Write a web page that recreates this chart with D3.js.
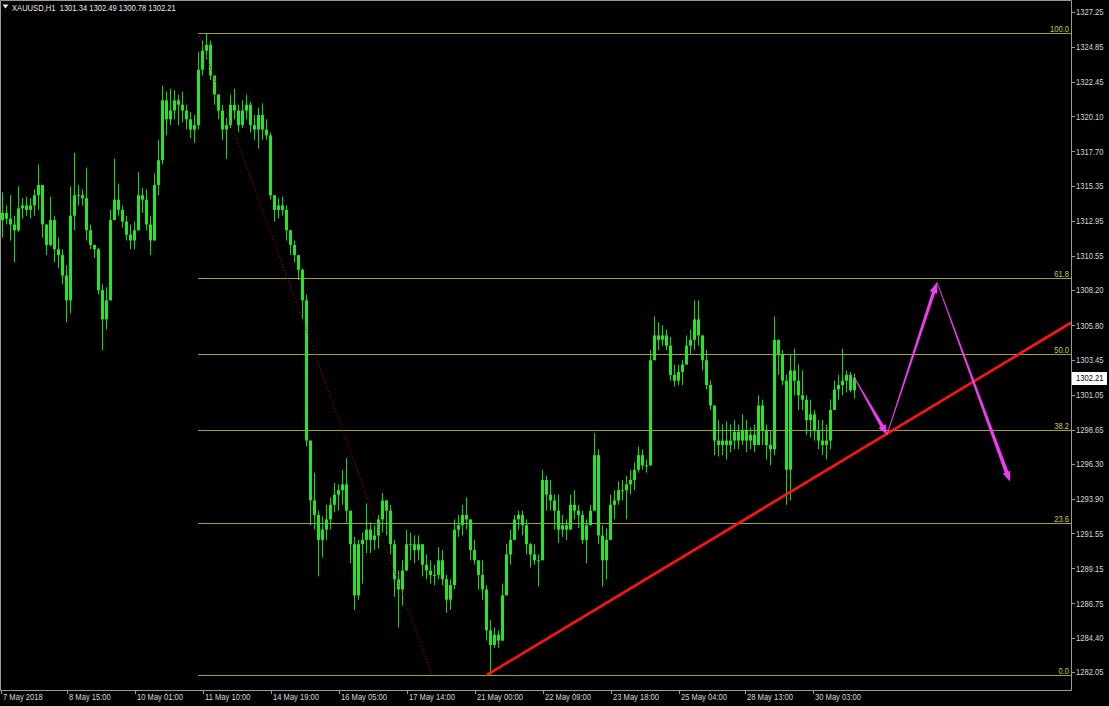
<!DOCTYPE html>
<html><head><meta charset="utf-8">
<script src="https://cdn.jsdelivr.net/npm/d3@7"></script>
<style>
html,body{margin:0;padding:0;background:#000;overflow:hidden}
svg{display:block}
text{font-family:"Liberation Sans","Arial",sans-serif;}
</style></head><body>
<svg id="c" width="1109" height="706"></svg>
<script>
// ---------------- data (XAUUSD H1, drawn as 2-hour candles) ----------------
const symbol = "XAUUSD,H1";
const lastOHLC = ["1301.34", "1302.49", "1300.78", "1302.21"];
const lastPrice = 1302.21;
const firstOpen = 1313.0;
const highs = [
 1314.9,1314.0,1314.7,1313.3,1315.3,1314.5,1314.6,1314.5,1315.1,1316.8,
 1315.4,1312.7,1314.6,1313.3,1311.8,1311.0,1309.9,1315.3,1317.6,1315.4,
 1315.1,1316.6,1312.7,1311.3,1311.1,1308.6,1308.4,1313.7,1317.2,1315.5,
 1314.0,1313.3,1312.7,1312.9,1316.3,1315.2,1315.1,1313.3,1316.2,1318.5,
 1322.2,1321.8,1322.0,1321.9,1321.6,1321.8,1320.9,1320.4,1320.2,1324.5,
 1325.3,1325.8,1325.3,1322.7,1321.6,1320.9,1320.0,1321.6,1322.0,1320.9,
 1321.2,1321.6,1321.1,1320.2,1320.7,1321.0,1319.9,1319.0,1314.5,1314.5,
 1314.6,1314.0,1312.3,1311.6,1310.6,1309.7,1307.9,1297.9,1295.7,1293.1,
 1292.7,1293.5,1294.0,1295.0,1294.9,1295.9,1296.7,1292.5,1291.3,1291.1,
 1291.6,1293.6,1292.3,1292.1,1292.8,1294.3,1293.8,1293.5,1291.1,1289.0,
 1289.7,1291.8,1291.6,1291.4,1291.4,1290.5,1290.1,1289.7,1289.4,1290.6,
 1290.4,1288.7,1288.4,1292.5,1292.8,1293.5,1294.0,1292.1,1291.1,1289.7,
 1289.7,1288.0,1285.6,1285.1,1284.9,1288.1,1290.8,1291.8,1292.8,1293.1,
 1293.1,1292.5,1290.9,1290.8,1290.1,1295.9,1295.5,1295.2,1294.2,1294.2,
 1292.8,1292.5,1294.2,1294.5,1293.5,1293.1,1292.5,1293.5,1298.4,1297.3,
 1292.1,1291.9,1294.2,1294.5,1295.1,1295.2,1295.5,1295.9,1296.4,1297.5,
 1297.3,1296.6,1304.1,1306.4,1306.0,1305.8,1305.5,1305.0,1303.1,1303.1,
 1303.4,1305.1,1305.5,1307.5,1307.5,1304.6,1304.1,1302.0,1299.7,1299.3,
 1299.0,1299.2,1299.0,1299.3,1299.0,1299.7,1299.3,1298.8,1299.0,1301.0,
 1300.7,1299.0,1298.6,1306.4,1304.8,1304.1,1302.4,1303.8,1304.2,1303.1,
 1302.7,1301.0,1300.7,1300.0,1299.3,1299.3,1299.0,1300.7,1302.0,1302.4,
 1304.2,1302.7,1302.6,1302.49];
const lows = [
 1311.8,1312.7,1311.6,1310.1,1312.2,1313.1,1313.3,1313.1,1313.3,1313.7,
 1311.8,1310.6,1311.2,1310.1,1309.7,1308.6,1306.0,1306.6,1312.3,1314.0,
 1314.0,1311.6,1311.0,1310.4,1307.9,1304.1,1305.5,1308.2,1313.0,1313.3,
 1312.5,1311.6,1311.0,1311.0,1313.0,1313.5,1312.3,1310.6,1312.0,1314.7,
 1316.8,1318.8,1319.5,1319.9,1319.5,1319.7,1319.2,1318.6,1318.3,1319.2,
 1322.9,1324.0,1322.6,1320.9,1319.9,1318.5,1317.2,1319.3,1319.9,1319.0,
 1319.3,1319.9,1319.0,1318.5,1317.9,1318.5,1318.5,1314.4,1312.9,1313.1,
 1313.3,1311.6,1310.6,1310.1,1308.9,1306.2,1297.5,1292.1,1291.8,1288.6,
 1289.9,1291.1,1291.8,1293.0,1293.1,1293.5,1292.3,1289.5,1286.3,1287.0,
 1288.1,1290.2,1290.2,1290.4,1290.5,1291.6,1291.4,1290.1,1287.2,1285.1,
 1286.6,1289.0,1289.7,1289.5,1289.7,1288.6,1288.4,1288.1,1288.0,1288.4,
 1288.0,1286.1,1286.3,1287.7,1291.3,1291.4,1291.8,1289.7,1289.4,1287.7,
 1287.0,1284.2,1281.85,1283.7,1283.7,1284.6,1287.3,1289.4,1291.4,1291.8,
 1291.4,1290.1,1289.2,1289.4,1287.9,1289.7,1293.1,1293.1,1291.8,1290.9,
 1291.3,1291.1,1291.8,1292.5,1291.9,1290.8,1289.5,1292.1,1293.1,1290.8,
 1287.9,1288.4,1291.1,1292.5,1293.5,1293.8,1292.5,1294.2,1294.5,1295.7,
 1295.9,1295.7,1296.2,1303.8,1304.1,1304.4,1304.1,1302.0,1301.6,1301.7,
 1301.7,1303.1,1303.8,1304.1,1304.4,1302.7,1301.4,1300.0,1296.9,1296.8,
 1296.9,1296.6,1297.1,1297.3,1297.3,1297.6,1297.1,1297.3,1297.1,1297.9,
 1297.6,1296.6,1296.2,1296.9,1302.4,1301.7,1293.5,1293.8,1301.0,1300.0,
 1300.0,1298.3,1298.1,1297.9,1297.3,1296.9,1296.6,1297.3,1300.3,1300.7,
 1301.0,1301.2,1301.2,1300.78];
const closes = [
 1313.5,1313.1,1312.7,1312.3,1313.8,1314.0,1313.7,1314.0,1314.7,1315.4,
 1312.7,1311.3,1313.0,1311.0,1310.6,1309.2,1307.5,1313.3,1314.7,1314.7,
 1314.5,1312.3,1311.3,1311.0,1308.2,1306.2,1307.5,1313.0,1314.4,1313.7,
 1312.9,1312.0,1311.6,1312.3,1314.7,1314.4,1312.7,1311.6,1315.4,1317.1,
 1321.2,1319.9,1320.5,1321.2,1320.9,1320.5,1319.9,1319.2,1319.5,1323.3,
 1324.6,1325.0,1322.9,1321.6,1320.5,1319.2,1319.5,1320.9,1320.5,1319.5,
 1320.5,1320.9,1319.5,1319.2,1320.2,1319.2,1318.8,1314.7,1313.7,1314.0,
 1313.7,1312.3,1311.3,1310.6,1309.6,1307.5,1297.9,1293.8,1292.8,1291.1,
 1291.8,1292.5,1293.5,1294.2,1294.5,1294.9,1293.1,1290.8,1287.3,1290.8,
 1291.1,1291.8,1291.1,1291.4,1292.5,1293.8,1293.1,1290.8,1288.4,1287.7,
 1289.0,1290.8,1290.8,1290.4,1290.8,1289.4,1289.0,1288.7,1288.7,1289.7,
 1288.4,1287.0,1288.0,1291.8,1292.1,1292.8,1292.5,1290.4,1289.7,1288.7,
 1287.7,1284.9,1283.9,1284.6,1284.2,1287.3,1290.1,1291.1,1292.5,1292.8,
 1292.1,1290.8,1290.1,1289.7,1289.7,1295.2,1294.2,1293.8,1293.1,1291.8,
 1292.1,1291.8,1293.5,1293.1,1292.8,1291.1,1292.1,1293.1,1296.9,1291.4,
 1289.7,1291.1,1293.5,1293.8,1294.5,1294.5,1294.9,1295.2,1295.9,1296.9,
 1296.2,1296.2,1303.4,1305.1,1304.8,1305.1,1304.4,1302.4,1302.0,1302.6,
 1303.1,1304.4,1304.8,1306.2,1305.1,1303.4,1301.7,1300.3,1297.9,1297.6,
 1297.9,1297.6,1297.9,1298.5,1297.9,1298.6,1297.9,1298.3,1297.6,1300.3,
 1298.6,1297.6,1297.3,1304.8,1303.8,1302.0,1295.9,1302.7,1302.0,1301.0,
 1300.7,1299.3,1299.7,1298.6,1297.9,1297.6,1297.9,1300.0,1301.4,1301.7,
 1302.0,1302.4,1301.34,1302.21];

const yTickLabels = ["1327.25","1324.85","1322.45","1320.10","1317.70","1315.35","1312.95",
 "1310.55","1308.20","1305.80","1303.45","1301.05","1298.65","1296.30","1293.90","1291.55",
 "1289.15","1286.75","1284.40","1282.05"];
const xTickLabels = ["7 May 2018","8 May 15:00","10 May 01:00","11 May 10:00","14 May 19:00",
 "16 May 05:00","17 May 14:00","21 May 00:00","22 May 09:00","23 May 18:00","25 May 04:00",
 "28 May 13:00","30 May 03:00"];
const xTickHours = [0,33,67,101,135,169,203,237,271,305,339,372,406];

const fibLevels = [100.0, 61.8, 50.0, 38.2, 23.6, 0.0];
const fibHigh = 1325.80, fibLow = 1281.85;
const fibAnchorBars = [49, 107.5];          // 2-hour bar index of the high and low anchors
const trendPoints = [[121.25, 1281.85], [196, 1294.2]];
const forecastPath = [[213, 1302.25], [221.25, 1298.3], [233.75, 1308.75], [252, 1295.1]];

// ---------------- layout ----------------
const W = 1109, H = 706;
const plotRight = 1071, plotBottom = 690;
const FS = 9.5, SX = 0.8;   // font size and horizontal squeeze (narrow terminal font)
const svg = d3.select("#c");
svg.append("rect").attr("width", W).attr("height", H).attr("fill", "#000");

const x = d3.scaleLinear().domain([0, 213]).range([2, 854]);        // 2-hour bar index
const xHour = h => x(h / 2 - 0.25);                                   // hourly index
const y = d3.scaleLinear().domain([1282.05, 1327.25]).range([672, 12]);

function label(sel, px, py) {
  return sel.attr("transform", (d, i) => `translate(${px(d, i)},${py(d, i)}) scale(${SX},1)`)
    .attr("font-size", FS);
}

svg.append("clipPath").attr("id", "pc").append("rect")
  .attr("x", 0).attr("y", 0).attr("width", plotRight).attr("height", plotBottom);
const g = svg.append("g").attr("clip-path", "url(#pc)");

// fib levels
const fibY = lv => y(fibLow + (fibHigh - fibLow) * lv / 100);
const fx0 = Math.round(x(fibAnchorBars[0]));
g.selectAll("line.fib").data(fibLevels).join("line")
  .attr("x1", fx0).attr("x2", plotRight)
  .attr("y1", d => Math.round(fibY(d)) + 0.5).attr("y2", d => Math.round(fibY(d)) + 0.5)
  .attr("stroke", "#a3a32c").attr("stroke-width", 1);
label(g.selectAll("text.fib").data(fibLevels).join("text"),
      () => plotRight - 2, d => Math.round(fibY(d)) - 1.5)
  .attr("text-anchor", "end").attr("fill", "#cccc3a")
  .text(d => d.toFixed(1));

// candles
const candles = closes.map((c, i) => {
  const o = i === 0 ? firstOpen : closes[i - 1];
  return {i, o, c, h: Math.max(highs[i], o, c), l: Math.min(lows[i], o, c)};
});
g.selectAll("rect.wick").data(candles).join("rect")
  .attr("x", d => Math.round(x(d.i))).attr("width", 1)
  .attr("y", d => y(d.h)).attr("height", d => Math.max(1, y(d.l) - y(d.h)))
  .attr("fill", "#14d814");
g.selectAll("rect.body").data(candles).join("rect")
  .attr("x", d => Math.round(x(d.i)) - 1).attr("width", 3)
  .attr("y", d => y(Math.max(d.o, d.c))).attr("height", d => Math.max(1, Math.abs(y(d.o) - y(d.c))))
  .attr("fill", "#22e822");

// fib dotted trend line
g.append("line")
  .attr("x1", x(fibAnchorBars[0])).attr("y1", y(fibHigh))
  .attr("x2", x(fibAnchorBars[1])).attr("y2", y(fibLow))
  .attr("stroke", "#c00000").attr("stroke-width", 1).attr("stroke-dasharray", "1,2");

// trend line (ray)
const [t0, t1] = trendPoints.map(p => [x(p[0]), y(p[1])]);
const slope = (t1[1] - t0[1]) / (t1[0] - t0[0]);
g.append("line")
  .attr("x1", t0[0]).attr("y1", t0[1])
  .attr("x2", plotRight).attr("y2", t0[1] + slope * (plotRight - t0[0]))
  .attr("stroke", "#ff1414").attr("stroke-width", 2.6);

// forecast arrows (tapered)
function arrowPoly(p0, p1, w0, w1, L, hw) {
  const dx = p1[0] - p0[0], dy = p1[1] - p0[1], len = Math.hypot(dx, dy);
  const ux = dx / len, uy = dy / len, nx = -uy, ny = ux;
  const b = [p1[0] - ux * L, p1[1] - uy * L];
  const P = (p, w) => [p[0] + nx * w, p[1] + ny * w];
  return [P(p0, w0), P(b, w1), P(b, hw), p1, P(b, -hw), P(b, -w1), P(p0, -w0)];
}
const fp = forecastPath.map(p => [x(p[0]), y(p[1])]);
const arrowSpec = [[0.4, 1.8, 10, 4], [0.4, 1.7, 11, 4], [0.4, 1.9, 10, 4]];
for (let i = 0; i < fp.length - 1; i++) {
  const s = arrowSpec[i];
  g.append("polygon")
    .attr("points", arrowPoly(fp[i], fp[i + 1], s[0], s[1], s[2], s[3]).map(p => p.join(",")).join(" "))
    .attr("fill", "#f03cf0");
}

// frame / axes
svg.append("path")
  .attr("d", `M0.5,${plotBottom + 0.5} V0.5 H${plotRight + 0.5} V${plotBottom + 0.5} H0.5`)
  .attr("fill", "none").attr("stroke", "#9a9a9a").attr("stroke-width", 1);

// y axis ticks & labels
const yAxis = svg.append("g");
yAxis.selectAll("line").data(yTickLabels).join("line")
  .attr("x1", plotRight + 1).attr("x2", plotRight + 4)
  .attr("y1", d => Math.round(y(+d)) + 0.5).attr("y2", d => Math.round(y(+d)) + 0.5)
  .attr("stroke", "#9a9a9a");
label(yAxis.selectAll("text").data(yTickLabels).join("text"),
      () => plotRight + 5, d => y(+d))
  .attr("dy", "0.35em").attr("fill", "#d8d8d8").text(d => d);

// current price label
const py = y(lastPrice);
svg.append("rect").attr("x", plotRight + 1).attr("y", Math.round(py) - 6)
  .attr("width", 35).attr("height", 13).attr("fill", "#ffffff");
label(svg.append("text"), () => plotRight + 5, () => py)
  .attr("dy", "0.35em").attr("fill", "#000").text(lastPrice.toFixed(2));

// x axis ticks & labels
const xAxis = svg.append("g");
xAxis.selectAll("line").data(xTickHours).join("line")
  .attr("x1", d => Math.round(xHour(d)) + 0.5).attr("x2", d => Math.round(xHour(d)) + 0.5)
  .attr("y1", plotBottom + 1).attr("y2", plotBottom + 4).attr("stroke", "#9a9a9a");
label(xAxis.selectAll("text").data(xTickLabels).join("text"),
      (d, i) => Math.round(xHour(xTickHours[i])) + 2, () => 700)
  .attr("fill", "#d8d8d8").text(d => d);

// header
svg.append("path").attr("d", "M2.5,4.5 L8.5,4.5 L5.5,8.5 Z").attr("fill", "#e8e8e8");
label(svg.append("text"), () => 12, () => 10.5).attr("fill", "#e8e8e8")
  .attr("xml:space", "preserve")
  .text(symbol + "  " + lastOHLC.join(" "));
</script>
</body></html>
